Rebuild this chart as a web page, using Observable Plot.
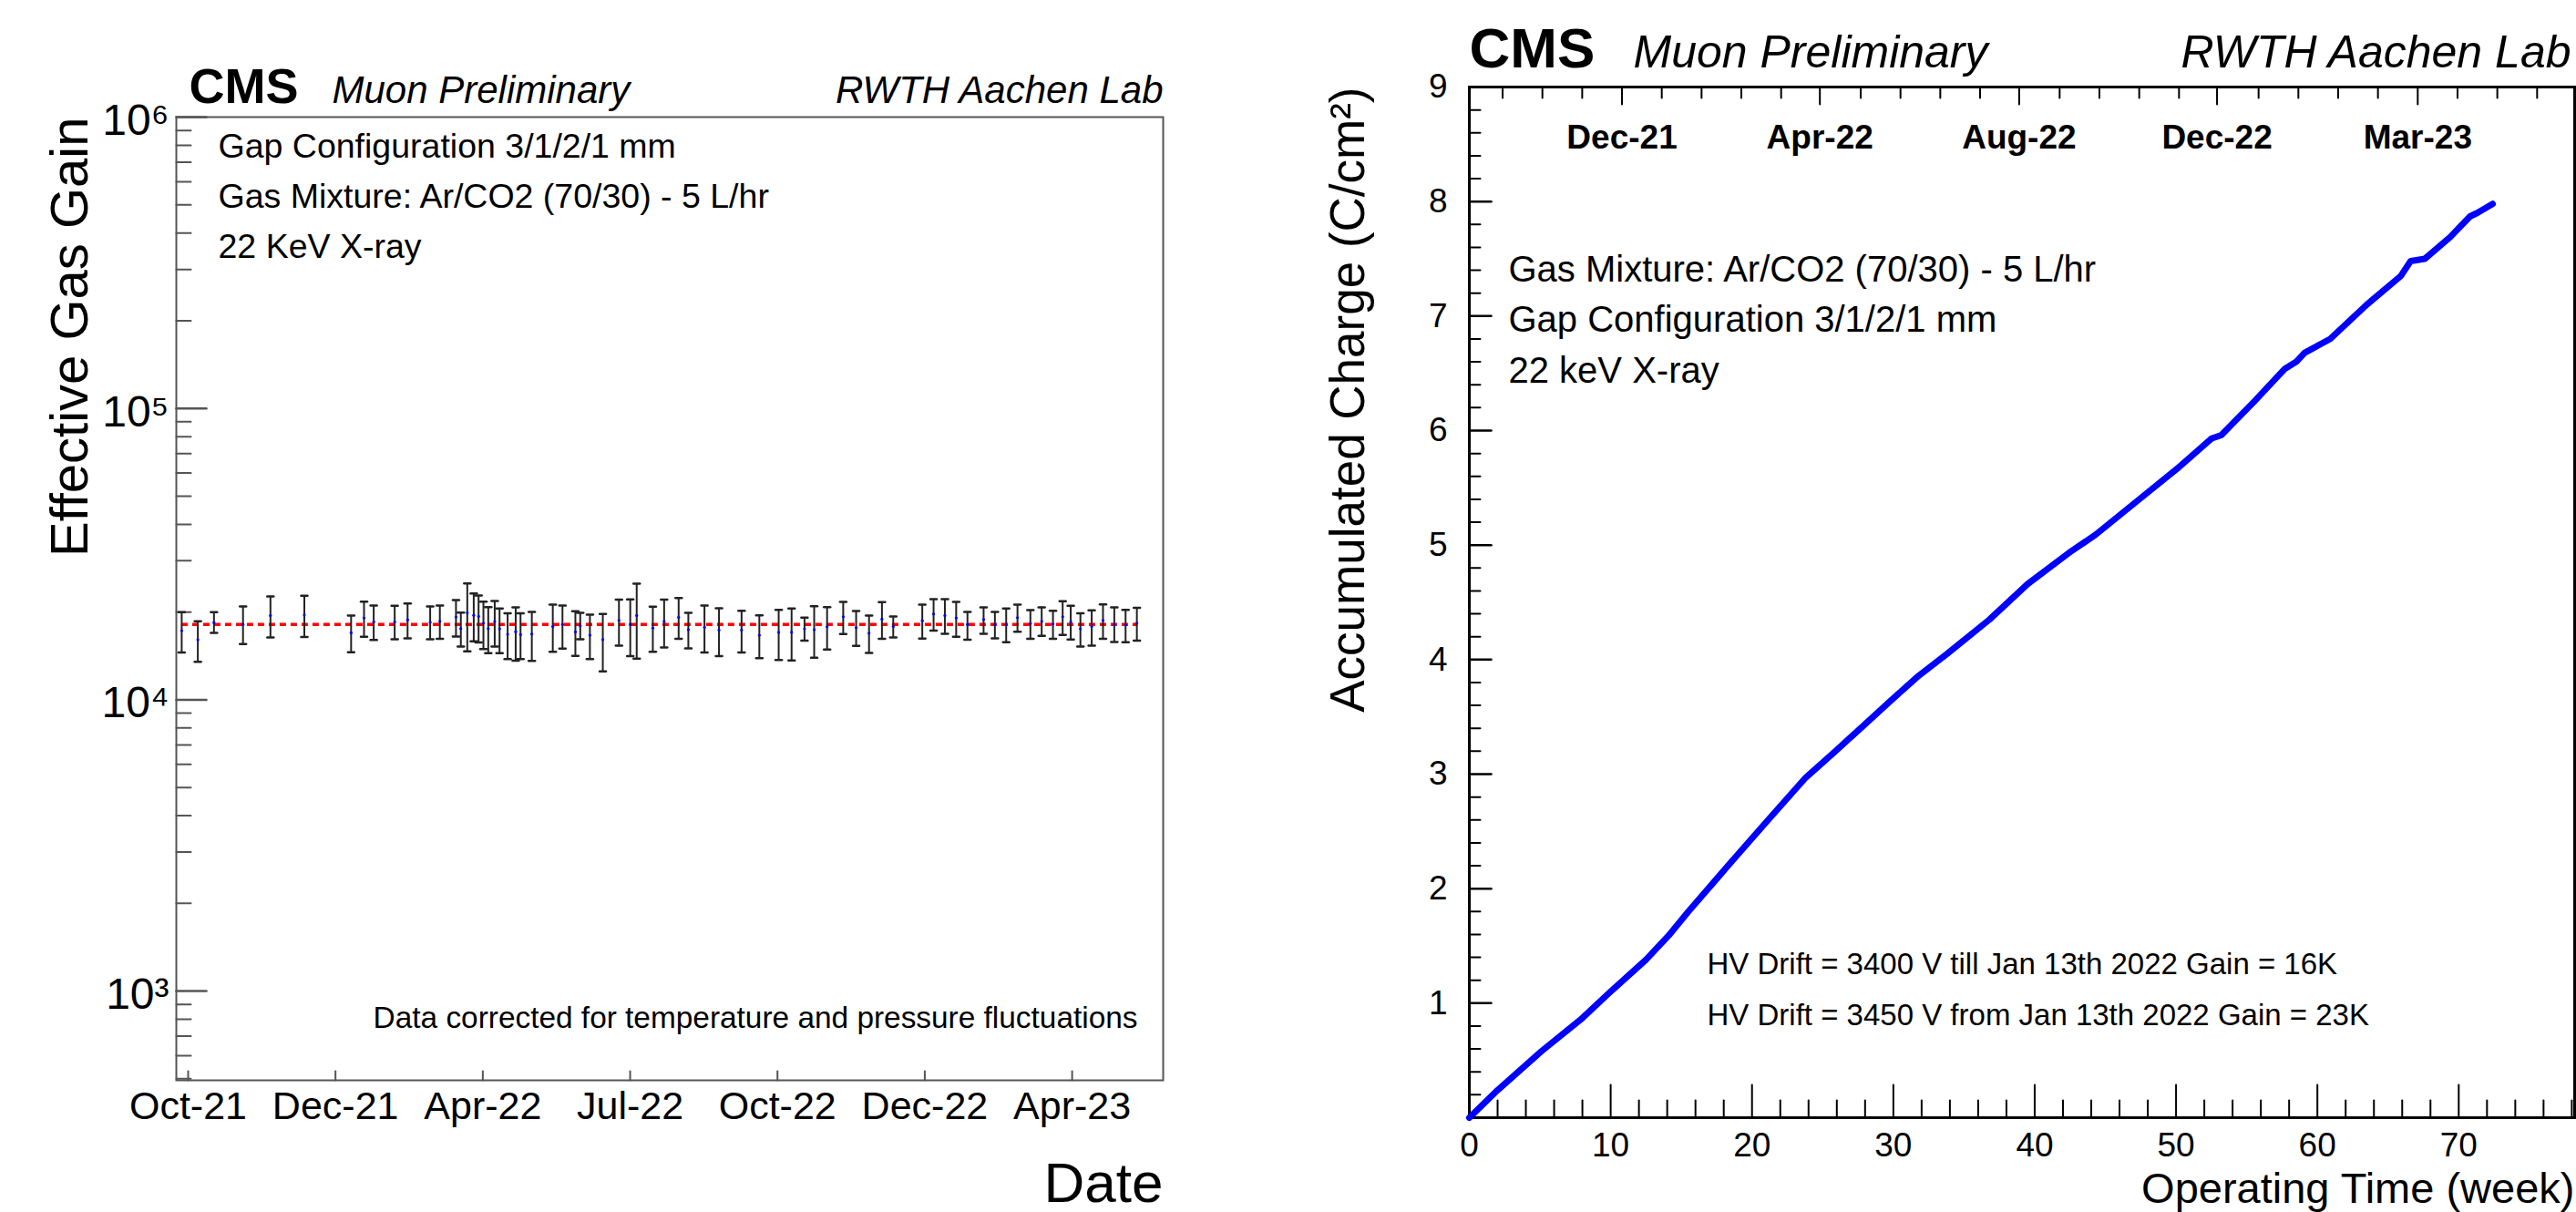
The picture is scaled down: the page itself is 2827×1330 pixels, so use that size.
<!DOCTYPE html>
<html><head><meta charset="utf-8">
<script src="https://cdn.jsdelivr.net/npm/d3@7"></script>
<script src="https://cdn.jsdelivr.net/npm/@observablehq/plot@0.6"></script>
<style>
html,body{margin:0;padding:0;background:#fff;}
#fig{position:relative;width:2827px;height:1330px;overflow:hidden;background:#fff;}
#left{position:absolute;left:0;top:0;}
#right{position:absolute;left:1400px;top:0;}
</style></head><body>
<div id="fig"><div id="left"></div><div id="right"></div></div>
<script>
// ---------- Left panel: effective gas gain vs date ----------
const gainDates = ["2021-09-27","2021-10-07","2021-10-17","2021-11-04","2021-11-21","2021-12-12","2022-01-10","2022-01-18","2022-01-24","2022-02-06","2022-02-14","2022-02-28","2022-03-06","2022-03-16","2022-03-19","2022-03-23","2022-03-27","2022-03-30","2022-04-02","2022-04-05","2022-04-09","2022-04-12","2022-04-17","2022-04-22","2022-04-25","2022-05-02","2022-05-15","2022-05-21","2022-05-29","2022-06-01","2022-06-07","2022-06-15","2022-06-25","2022-07-02","2022-07-06","2022-07-16","2022-07-23","2022-08-01","2022-08-07","2022-08-17","2022-08-26","2022-09-09","2022-09-20","2022-10-02","2022-10-10","2022-10-18","2022-10-24","2022-11-01","2022-11-11","2022-11-19","2022-11-27","2022-12-05","2022-12-12","2022-12-30","2023-01-06","2023-01-13","2023-01-20","2023-01-27","2023-02-06","2023-02-13","2023-02-20","2023-02-27","2023-03-07","2023-03-14","2023-03-21","2023-03-27","2023-04-01","2023-04-07","2023-04-14","2023-04-21","2023-04-28","2023-05-05","2023-05-12"];
const gainValues = [17260,16060,18410,18150,19460,19550,16980,19090,18510,18510,18810,18450,18590,19230,17550,19890,19500,19320,18320,17550,18550,17510,16770,17130,16730,16810,17850,18150,17100,17930,16650,16090,18720,18150,19460,17630,18590,19180,17400,17720,17350,17350,16650,17050,17050,17510,17400,17800,19270,17670,16930,18910,17850,18680,19690,19460,19090,18150,18860,18150,18120,19130,18280,18590,18190,19270,18510,17510,17850,18720,18150,18070,18320];
const gainLow = [14520,13490,16980,15530,16370,16410,14550,16450,16030,16140,16260,16140,16180,16490,15240,14660,15870,15720,14940,14450,15240,14450,13800,13610,13780,13590,14600,14980,14140,16140,13780,12510,15350,14110,13840,14600,15130,16180,15020,14520,14110,14520,13880,13700,13650,15950,13940,14870,16810,15310,14490,16180,16370,16210,17260,16850,16450,16060,16850,16260,15750,17130,16180,16570,16180,16690,16090,15240,15350,16180,15800,15750,15950];
const gainHigh = [19980,18590,19980,20920,22640,22740,19460,21730,21070,21010,21410,20920,21070,21990,19930,25090,23180,22800,21730,20810,21830,20560,19790,20760,19790,20030,21220,21070,20120,19890,19600,19690,22050,22090,25040,20860,22050,22360,19890,21070,20620,20220,19500,20360,20560,19130,20960,20810,21680,20170,19460,21620,19320,21220,22150,22150,21680,20030,20760,20030,20560,21220,20320,20760,20220,21780,21010,19790,20260,21260,20760,20360,20700];
const fitGain = 18150;
const dateTicks = ["2021-10-01T00:00Z","2021-12-31T07:30Z","2022-04-01T15:00Z","2022-07-01T22:30Z","2022-10-01T06:00Z","2022-12-31T13:30Z","2023-04-01T21:00Z"];
const dateTickLabels = ["Oct-21","Dec-21","Apr-22","Jul-22","Oct-22","Dec-22","Apr-23"];
const gainDecades = [1e3, 1e4, 1e5, 1e6];
const leftInfo = ["Gap Configuration 3/1/2/1 mm", "Gas Mixture: Ar/CO2 (70/30) - 5 L/hr", "22 KeV X-ray"];

// ---------- Right panel: accumulated charge vs operating time ----------
const weeks = [0,2.0,5.1,8.0,9.9,12.5,14.1,15.5,17.6,18.3,21.0,23.8,25.9,29.8,31.8,33.8,36.8,39.5,42.4,44.3,47.7,50.2,52.5,53.2,55.5,57.7,58.5,59.1,60.9,63.5,65.9,66.6,67.6,69.4,70.8,71.3,72.4];
const charge = [0,0.24,0.58,0.87,1.09,1.38,1.59,1.80,2.10,2.20,2.58,2.97,3.20,3.64,3.86,4.05,4.35,4.66,4.93,5.09,5.43,5.68,5.93,5.96,6.25,6.54,6.60,6.68,6.80,7.10,7.35,7.48,7.50,7.69,7.87,7.90,7.98];
const weekTicks = [0,10,20,30,40,50,60,70];
const chargeTicks = [1,2,3,4,5,6,7,8,9];
const calendarTickWeeks = [10.8, 24.8, 38.9, 52.9, 67.1];
const calendarTickLabels = ["Dec-21","Apr-22","Aug-22","Dec-22","Mar-23"];
const rightInfo = ["Gas Mixture: Ar/CO2 (70/30) - 5 L/hr", "Gap Configuration 3/1/2/1 mm", "22 keV X-ray"];
const hvInfo = ["HV Drift = 3400 V till Jan 13th 2022 Gain = 16K", "HV Drift = 3450 V from Jan 13th 2022 Gain = 23K"];

const FONT = "'Liberation Sans', Arial, Helvetica, sans-serif";
const tickShape = {draw(ctx, l) { ctx.moveTo(0, 0); ctx.lineTo(0, -l); }};
const capShape = {draw(ctx, l) { ctx.moveTo(-l / 2, 0); ctx.lineTo(l / 2, 0); }};
const sup = {"2":"²","3":"³","4":"⁴","5":"⁵","6":"⁶"};

// helper for one-line annotations placed relative to the frame
const note = (txt, opts) => Plot.text([txt], {text: d => d, lineAnchor: "bottom", ...opts});

// build tables
const gainData = gainDates.map((d, i) => ({date: new Date(d), gain: gainValues[i], lo: gainLow[i], hi: gainHigh[i]}));
const dateTickDates = dateTicks.map(d => new Date(d));
const dateLabelMap = new Map(dateTickDates.map((d, i) => [+d, dateTickLabels[i]]));
const gainMinor = [];
for (let e = 2; e <= 5; e++) for (let m = 2; m <= 9; m++) { const v = m * 10 ** e; if (v >= 494) gainMinor.push(v); }

const left = Plot.plot({
  width: 1400, height: 1330,
  marginTop: 128, marginBottom: 145, marginLeft: 193, marginRight: 124,
  style: {fontFamily: FONT, background: "#fff", color: "#000", overflow: "visible"},
  x: {type: "utc", domain: [new Date("2021-09-23T16:00Z"), new Date("2023-05-28T07:00Z")], label: null},
  y: {type: "log", domain: [494, 1e6], label: null},
  marks: [
    Plot.frame({stroke: "#555", strokeWidth: 2}),
    Plot.vectorX(dateTickDates, {x: d => d, frameAnchor: "bottom", length: 10, rotate: 0, anchor: "start", shape: tickShape, stroke: "#555", strokeWidth: 2}),
    Plot.vectorY(gainDecades, {y: d => d, frameAnchor: "left", length: 33, rotate: 90, anchor: "start", shape: tickShape, stroke: "#555", strokeWidth: 2.5}),
    Plot.vectorY(gainMinor, {y: d => d, frameAnchor: "left", length: 16, rotate: 90, anchor: "start", shape: tickShape, stroke: "#555", strokeWidth: 2}),
    Plot.axisX(dateTickDates, {tickSize: 0, tickPadding: 12, fontSize: 43, tickFormat: d => dateLabelMap.get(+d), label: null}),
    Plot.axisY(gainDecades, {tickSize: 0, tickPadding: 8, fontSize: 48, dy: 4, tickFormat: d => "10" + sup[String(Math.round(Math.log10(d)))], label: null}),
    Plot.ruleY([fitGain], {x1: () => gainData[0].date, x2: () => gainData[gainData.length - 1].date, stroke: "#ff0000", strokeWidth: 3.5, strokeDasharray: "7,5"}),
    Plot.ruleX(gainData, {x: "date", y1: "lo", y2: "hi", stroke: "#222", strokeWidth: 2}),
    Plot.vector(gainData, {x: "date", y: "lo", length: 7, rotate: 0, anchor: "start", shape: capShape, stroke: "#222", strokeWidth: 2.5}),
    Plot.vector(gainData, {x: "date", y: "hi", length: 7, rotate: 0, anchor: "start", shape: capShape, stroke: "#222", strokeWidth: 2.5}),
    Plot.dot(gainData, {x: "date", y: "gain", r: 1.6, fill: "#0000ff", stroke: null}),
    // header
    note("CMS", {frameAnchor: "top-left", dx: 14, dy: -16, textAnchor: "start", fontSize: 54, fontWeight: "bold"}),
    note("Muon Preliminary", {frameAnchor: "top-left", dx: 171, dy: -16, textAnchor: "start", fontSize: 42, fontStyle: "italic"}),
    note("RWTH Aachen Lab", {frameAnchor: "top-right", dx: 0, dy: -16, textAnchor: "end", fontSize: 42, fontStyle: "italic"}),
    // info
    ...leftInfo.map((t, i) => note(t, {frameAnchor: "top-left", dx: 46, dy: 44 + 55 * i, textAnchor: "start", fontSize: 37.5})),
    note("Data corrected for temperature and pressure fluctuations", {frameAnchor: "bottom-right", dx: -28, dy: -58, textAnchor: "end", fontSize: 33.4}),
    note("Date", {frameAnchor: "bottom-right", dx: 0, dy: 133, textAnchor: "end", fontSize: 62}),
    note("Effective Gas Gain", {frameAnchor: "top-left", dx: -98, dy: 0, rotate: -90, textAnchor: "end", fontSize: 58})
  ]
});
document.getElementById("left").appendChild(left);

const chargeData = weeks.map((w, i) => ({week: w, charge: charge[i]}));
const weekMinor = [];
for (let w = 0; w <= 78; w += 2) if (w % 10 !== 0) weekMinor.push(w);
const chargeMinor = [];
for (let k = 0; k < 45; k++) if (k % 5 !== 0) chargeMinor.push(k / 5);
const calStep = (calendarTickWeeks[calendarTickWeeks.length - 1] - calendarTickWeeks[0]) / (calendarTickWeeks.length - 1) / 5;
const calMinor = [];
for (let k = -4; k <= 60; k++) { const w = calendarTickWeeks[0] + k * calStep; if (k % 5 !== 0 && w > 0.3 && w < 78) calMinor.push(w); }
const calLabelMap = new Map(calendarTickWeeks.map((w, i) => [w, calendarTickLabels[i]]));

const right = Plot.plot({
  width: 1427, height: 1330,
  marginTop: 95, marginBottom: 104, marginLeft: 212, marginRight: 2,
  style: {fontFamily: FONT, background: "#fff", color: "#000", overflow: "visible"},
  x: {domain: [0, 78.2], label: null},
  y: {domain: [0, 9], label: null},
  marks: [
    Plot.frame({stroke: "#000", strokeWidth: 3}),
    Plot.vectorX(weekTicks, {x: d => d, frameAnchor: "bottom", length: 36, rotate: 0, anchor: "start", shape: tickShape, stroke: "#000", strokeWidth: 2}),
    Plot.vectorX(weekMinor, {x: d => d, frameAnchor: "bottom", length: 19, rotate: 0, anchor: "start", shape: tickShape, stroke: "#000", strokeWidth: 2}),
    Plot.vectorX(calendarTickWeeks, {x: d => d, frameAnchor: "top", length: 19, rotate: 180, anchor: "start", shape: tickShape, stroke: "#000", strokeWidth: 2}),
    Plot.vectorX(calMinor, {x: d => d, frameAnchor: "top", length: 12, rotate: 180, anchor: "start", shape: tickShape, stroke: "#000", strokeWidth: 2}),
    Plot.vectorY(chargeTicks, {y: d => d, frameAnchor: "left", length: 24, rotate: 90, anchor: "start", shape: tickShape, stroke: "#000", strokeWidth: 2.5}),
    Plot.vectorY(chargeMinor, {y: d => d, frameAnchor: "left", length: 12, rotate: 90, anchor: "start", shape: tickShape, stroke: "#000", strokeWidth: 2}),
    Plot.axisX(weekTicks, {tickSize: 0, tickPadding: 16, fontSize: 37, tickFormat: d => String(d), label: null}),
    Plot.axisY(chargeTicks, {tickSize: 0, tickPadding: 24, fontSize: 37, tickFormat: d => String(d), label: null}),
    Plot.text(calendarTickWeeks, {x: d => d, text: d => calLabelMap.get(d), frameAnchor: "top", dy: 67, lineAnchor: "bottom", textAnchor: "middle", fontSize: 37, fontWeight: "bold"}),
    Plot.line(chargeData, {x: "week", y: "charge", stroke: "#0000ff", strokeWidth: 7, strokeLinecap: "round", strokeLinejoin: "round"}),
    note("CMS", {frameAnchor: "top-left", dx: 0, dy: -22, textAnchor: "start", fontSize: 62, fontWeight: "bold"}),
    note("Muon Preliminary", {frameAnchor: "top-left", dx: 180, dy: -22, textAnchor: "start", fontSize: 50, fontStyle: "italic"}),
    note("RWTH Aachen Lab", {frameAnchor: "top-right", dx: -4, dy: -22, textAnchor: "end", fontSize: 50, fontStyle: "italic"}),
    ...rightInfo.map((t, i) => note(t, {frameAnchor: "top-left", dx: 43, dy: 213 + 55.5 * i, textAnchor: "start", fontSize: 40})),
    ...hvInfo.map((t, i) => note(t, {frameAnchor: "bottom-left", dx: 261, dy: -158 + 56 * i, textAnchor: "start", fontSize: 33})),
    note("Accumulated Charge (C/cm²)", {frameAnchor: "top-left", dx: -116, dy: 0, rotate: -90, textAnchor: "end", fontSize: 53}),
    note("Operating Time (week)", {frameAnchor: "bottom-right", dx: 0, dy: 93.5, textAnchor: "end", fontSize: 47})
  ]
});
document.getElementById("right").appendChild(right);
</script>
</body></html>
